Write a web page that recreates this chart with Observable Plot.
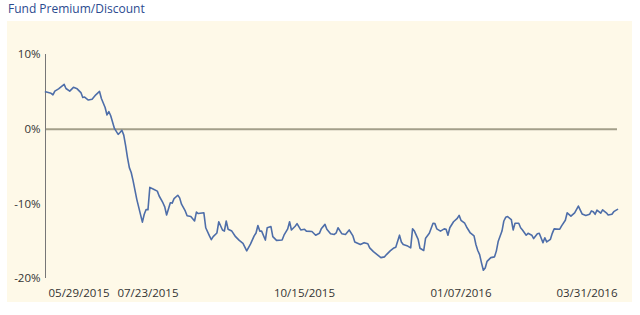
<!DOCTYPE html>
<html>
<head>
<meta charset="utf-8">
<script src="https://cdn.jsdelivr.net/npm/d3@7"></script>
<script src="https://cdn.jsdelivr.net/npm/@observablehq/plot@0.6"></script>
<style>
  body { margin: 0; background: #fff; }
  #wrap { position: relative; width: 640px; height: 315px; overflow: hidden; }
  #title { position: absolute; left: 8px; top: 1px; font-family: "Open Sans", sans-serif; font-size: 12px; line-height: 16px; color: #2b4a8f; }
  #panel { position: absolute; left: 7px; top: 21px; width: 625px; height: 281px; background: #fef9e8; }
  #chart { position: absolute; left: 0; top: 21px; }
</style>
</head>
<body>
<div id="wrap">
  <div id="title">Fund Premium/Discount</div>
  <div id="panel"></div>
  <div id="chart"></div>
</div>
<script>
const dates = [
  "2015-05-29","2015-06-01","2015-06-02","2015-06-03","2015-06-05","2015-06-08","2015-06-09","2015-06-11","2015-06-13","2015-06-15",
  "2015-06-17","2015-06-18","2015-06-19","2015-06-21","2015-06-23","2015-06-25","2015-06-27","2015-06-28","2015-06-30","2015-07-01",
  "2015-07-02","2015-07-03","2015-07-05","2015-07-07","2015-07-08","2015-07-09","2015-07-10","2015-07-11","2015-07-12","2015-07-13",
  "2015-07-14","2015-07-15","2015-07-17","2015-07-20","2015-07-21","2015-07-22","2015-07-23","2015-07-24","2015-07-26","2015-07-28",
  "2015-07-29","2015-07-31","2015-08-01","2015-08-02","2015-08-04","2015-08-05","2015-08-06","2015-08-08","2015-08-09","2015-08-10",
  "2015-08-12","2015-08-13","2015-08-15","2015-08-17","2015-08-18","2015-08-19","2015-08-22","2015-08-23","2015-08-25","2015-08-26",
  "2015-08-27","2015-08-29","2015-08-30","2015-09-01","2015-09-02","2015-09-03","2015-09-04","2015-09-06","2015-09-08","2015-09-10",
  "2015-09-12","2015-09-14","2015-09-16","2015-09-18","2015-09-19","2015-09-20","2015-09-21","2015-09-22","2015-09-24","2015-09-25",
  "2015-09-27","2015-09-28","2015-09-30","2015-10-03","2015-10-04","2015-10-06","2015-10-07","2015-10-08","2015-10-10","2015-10-11",
  "2015-10-13","2015-10-15","2015-10-16","2015-10-19","2015-10-21","2015-10-23","2015-10-24","2015-10-26","2015-10-27","2015-10-29",
  "2015-10-31","2015-11-01","2015-11-02","2015-11-04","2015-11-06","2015-11-08","2015-11-10","2015-11-11","2015-11-14","2015-11-16",
  "2015-11-18","2015-11-19","2015-11-21","2015-11-23","2015-11-25","2015-11-27","2015-11-28","2015-11-30","2015-12-02","2015-12-03",
  "2015-12-05","2015-12-06","2015-12-07","2015-12-09","2015-12-11","2015-12-12","2015-12-13","2015-12-15","2015-12-16","2015-12-18",
  "2015-12-19","2015-12-21","2015-12-23","2015-12-24","2015-12-25","2015-12-27","2015-12-29","2015-12-30","2015-12-31","2016-01-01",
  "2016-01-03","2016-01-05","2016-01-06","2016-01-07","2016-01-09","2016-01-10","2016-01-12","2016-01-14","2016-01-15","2016-01-16",
  "2016-01-17","2016-01-18","2016-01-19","2016-01-20","2016-01-21","2016-01-23","2016-01-25","2016-01-26","2016-01-27","2016-01-29",
  "2016-01-30","2016-01-31","2016-02-01","2016-02-03","2016-02-04","2016-02-05","2016-02-07","2016-02-08","2016-02-09","2016-02-11",
  "2016-02-12","2016-02-14","2016-02-15","2016-02-17","2016-02-18","2016-02-20","2016-02-21","2016-02-22","2016-02-24","2016-02-25",
  "2016-02-26","2016-02-29","2016-03-01","2016-03-03","2016-03-04","2016-03-06","2016-03-08","2016-03-10","2016-03-12","2016-03-14",
  "2016-03-16","2016-03-17","2016-03-18","2016-03-19","2016-03-20","2016-03-22","2016-03-23","2016-03-25","2016-03-26","2016-03-28",
  "2016-03-29","2016-03-31"
];
const premium = [
  5.0, 4.8, 4.6, 5.1, 5.4, 6.0, 5.45, 5.1, 5.6, 5.4,
  4.9, 4.25, 4.3, 3.9, 4.0, 4.6, 5.05, 4.1, 2.9, 1.9,
  2.35, 1.8, 0.1, -0.7, -0.45, -0.15, -0.8, -2.2, -3.8, -5.15,
  -5.8, -6.9, -9.4, -12.45, -11.4, -10.75, -10.8, -7.8, -8.05, -8.3,
  -8.95, -9.85, -10.4, -11.5, -9.85, -9.9, -9.3, -8.85, -9.2, -10.05,
  -10.95, -11.6, -11.7, -12.3, -11.1, -11.3, -11.2, -13.2, -14.3, -14.8,
  -14.4, -13.9, -12.4, -13.5, -13.65, -12.3, -13.4, -13.65, -14.4, -14.9,
  -15.3, -16.3, -15.4, -14.3, -13.9, -12.9, -13.65, -13.65, -14.85, -13.2,
  -13.05, -14.4, -14.9, -14.85, -14.2, -13.35, -12.4, -13.5, -13.0, -12.65,
  -13.5, -13.4, -13.65, -13.7, -14.2, -13.95, -13.35, -12.75, -13.4, -14.0,
  -14.1, -13.9, -13.2, -14.0, -14.1, -13.5, -14.3, -15.1, -15.45, -15.2,
  -15.35, -15.9, -16.4, -16.8, -17.2, -17.1, -16.8, -16.3, -15.9, -15.8,
  -14.2, -15.1, -15.45, -15.6, -15.9, -13.35, -13.65, -14.75, -15.95, -16.25,
  -14.6, -13.95, -12.6, -12.65, -13.35, -13.65, -13.35, -13.4, -14.2, -13.2,
  -12.4, -11.95, -11.55, -12.2, -12.6, -13.1, -13.9, -14.3, -15.45, -16.25,
  -16.8, -17.9, -18.9, -18.6, -17.7, -17.2, -17.1, -16.3, -15.0, -13.65,
  -12.3, -11.8, -11.7, -12.1, -13.5, -12.6, -12.6, -13.2, -13.5, -14.2,
  -13.95, -14.2, -14.65, -14.0, -13.95, -15.2, -14.55, -15.1, -14.75, -13.95,
  -13.35, -13.4, -12.95, -12.2, -11.2, -11.65, -11.2, -10.3, -11.35, -11.55,
  -11.4, -10.95, -11.05, -11.4, -10.85, -11.25, -10.8, -11.2, -11.5, -11.4,
  -11.05, -10.75
];
const xTickLabels = ["2015-05-29", "2015-07-23", "2015-10-15", "2016-01-07", "2016-03-31"];
const yTicks = [-20, -10, 0, 10];

const parse = s => new Date(s + "T00:00:00Z");
const data = dates.map((d, i) => ({date: parse(d), value: premium[i]}));
const xt = xTickLabels.map(parse);
const fmt = d3.utcFormat("%m/%d/%Y");

const chart = Plot.plot({
  width: 640,
  height: 294,
  marginLeft: 45,
  marginRight: 23,
  marginTop: 33,
  marginBottom: 37,
  style: {fontFamily: "Open Sans, sans-serif", fontSize: "11.5px", color: "#333", background: "transparent"},
  x: {type: "utc", domain: [xt[0], xt[xt.length - 1]]},
  y: {domain: [-20, 10]},
  marks: [
    Plot.ruleY([0], {stroke: "#a39f8a", strokeWidth: 2}),
    Plot.ruleX([xt[0]], {y1: -20, y2: 10, stroke: "#777", strokeWidth: 1}),
    Plot.axisY({ticks: yTicks, tickFormat: d => d + "%", tickSize: 0, tickPadding: 5, label: null}),
    Plot.axisX({ticks: [xt[0]], tickFormat: fmt, tickSize: 0, tickPadding: 10, textAnchor: "start", dx: 3, label: null}),
    Plot.axisX({ticks: xt.slice(1, -1), tickFormat: fmt, tickSize: 0, tickPadding: 10, label: null}),
    Plot.axisX({ticks: [xt[xt.length - 1]], tickFormat: fmt, tickSize: 0, tickPadding: 10, textAnchor: "end", label: null}),
    Plot.line(data, {x: "date", y: "value", stroke: "#4e6ea9", strokeWidth: 1.6, curve: "linear"})
  ]
});
document.getElementById("chart").appendChild(chart);
</script>
</body>
</html>
